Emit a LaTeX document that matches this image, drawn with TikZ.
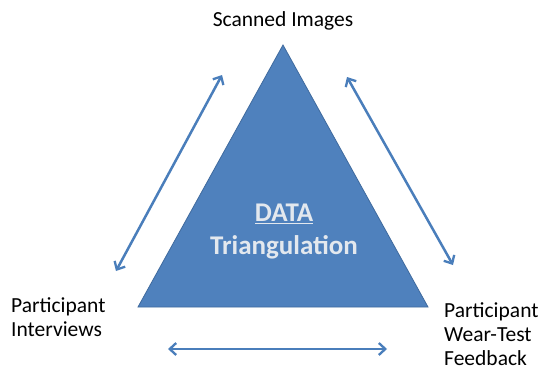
\documentclass[tikz,border=0pt]{standalone}
\usepackage{fontspec}
\setmainfont{Carlito}
\usetikzlibrary{arrows.meta}
\definecolor{triblue}{HTML}{4F81BD}
\definecolor{triedge}{HTML}{3F6A9E}
\definecolor{arrblue}{HTML}{4A7EBB}
\definecolor{centertext}{HTML}{E3E8EE}
\tikzset{
  label/.style={font=\fontsize{21.5}{24}\selectfont, inner sep=0pt, align=left},
  dblarrow/.style={draw=arrblue, line width=2.5pt, {Straight Barb[length=6.5pt,width=12pt,line width=2.3pt]}-{Straight Barb[length=6.5pt,width=12pt,line width=2.3pt]}},
}
\begin{document}
\begin{tikzpicture}[x=1pt,y=-1pt]
\useasboundingbox (0,0) rectangle (541,372);
\fill[white] (0,0) rectangle (541,372);
% triangle
\coordinate (apex) at (283,45);
\coordinate (bl) at (138,307);
\coordinate (br) at (428,307);
\filldraw[fill=triblue, draw=triedge, line width=0.8pt] (apex) -- (bl) -- (br) -- cycle;
\node[font=\bfseries\fontsize{27}{33}\selectfont, text=centertext, align=center, inner sep=0pt] (center) at (284,232) {\underline{DATA}\\Triangulation};
% labels
\node[label, anchor=base] (scan) at (283,26) {Scanned Images};
\node[label, anchor=north west] (inter) at (11,297) {Participant\\Interviews};
\node[label, anchor=north west] (wear) at (444,302) {Participant\\Wear-Test\\Feedback};
% arrows
\coordinate (la) at (116,271);
\coordinate (lb) at (222,75);
\coordinate (ra) at (347,77);
\coordinate (rb) at (453,265);
\coordinate (ba) at (168,349);
\coordinate (bb) at (387,349);
\draw[dblarrow] (la) -- (lb);
\draw[dblarrow] (ra) -- (rb);
\draw[dblarrow] (ba) -- (bb);
\end{tikzpicture}
\end{document}
